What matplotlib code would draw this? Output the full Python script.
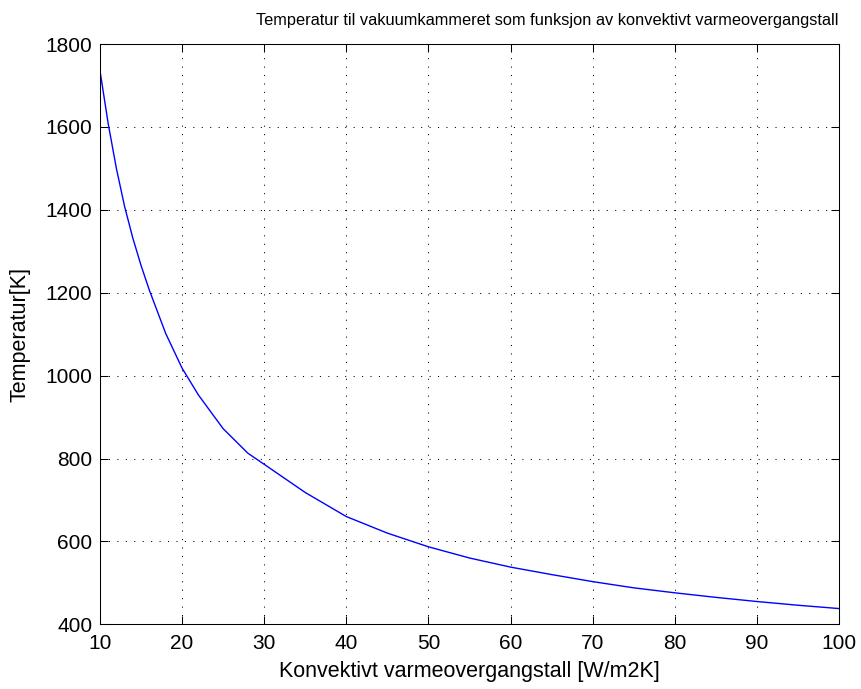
import matplotlib
matplotlib.use("Agg")
import matplotlib.pyplot as plt

# konvektivt varmeovergangstall [W/m2K]
h = [10, 11, 12, 13, 14, 15, 16, 18, 20, 22, 25, 28, 30, 35, 40,
     45, 50, 55, 60, 65, 70, 75, 80, 85, 90, 95, 100]
# temperatur [K], lest av figuren
T = [1736, 1608, 1500, 1408, 1332, 1266, 1207, 1102, 1018, 953, 872, 813, 786, 718, 660,
     620, 587, 560, 538, 520, 503, 488, 476, 465, 455, 446, 438]

xticks = list(range(10, 101, 10))
yticks = list(range(400, 1801, 200))

plt.rcParams['font.family'] = ['Liberation Sans', 'DejaVu Sans']

fig = plt.figure(figsize=(8.61, 6.89), dpi=100)
ax = fig.add_axes([0.1161, 0.0939, 0.8583, 0.8422])

ax.plot(h, T, color=(0, 0, 1), linewidth=1.0)

ax.set_xlim(10, 100)
ax.set_ylim(400, 1800)
ax.set_xticks(xticks)
ax.set_yticks(yticks)
ax.tick_params(direction='in', top=True, right=True, length=6, width=0.75,
               pad=5.5, labelsize=15)
ax.tick_params(axis='x', pad=7)
ax.grid(True, color='black', linestyle=(0, (1, 7.1)), linewidth=0.75)
for s in ax.spines.values():
    s.set_linewidth(0.75)

ax.set_title('Temperatur til vakuumkammeret som funksjon av konvektivt varmeovergangstall',
             fontsize=11.8, pad=14, loc='right')
ax.set_xlabel('Konvektivt varmeovergangstall [W/m2K]', fontsize=15.5, labelpad=6)
ax.set_ylabel('Temperatur[K]', fontsize=15.5, labelpad=11)

fig.savefig('out.png', dpi=100)
